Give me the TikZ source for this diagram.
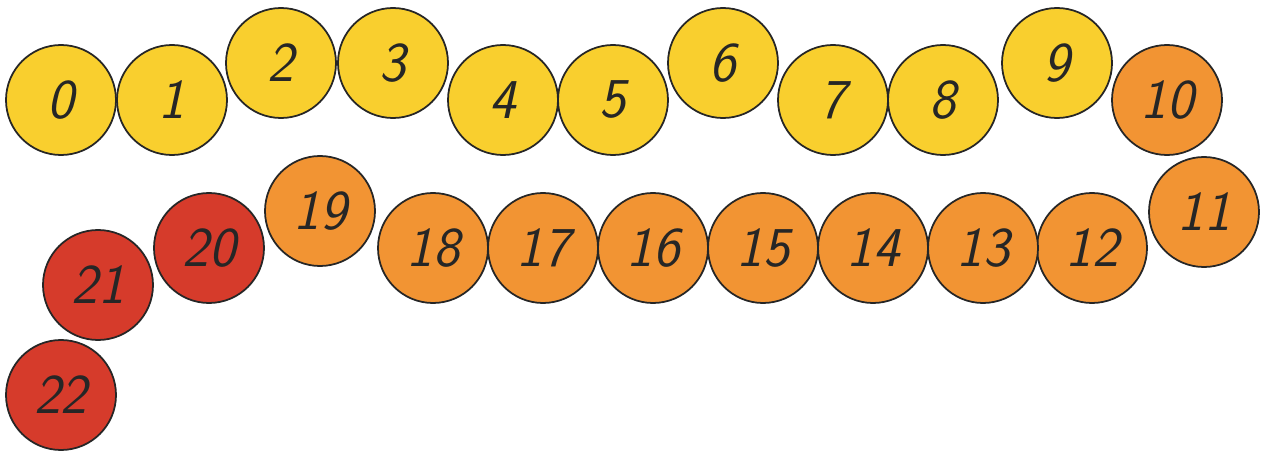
\documentclass[tikz,border=0pt]{standalone}
\usepackage{fontspec}
\definecolor{ballyellow}{HTML}{F9CF2E}
\definecolor{ballorange}{HTML}{F29433}
\definecolor{ballred}{HTML}{D63B2B}
\tikzset{
  ball/.style={circle,draw=black!85,line width=1pt,minimum size=2.2cm,inner sep=0pt,
    font=\fontsize{32}{32}\selectfont\sffamily\slshape,text=black!85},
  yball/.style={ball,fill=ballyellow},
  oball/.style={ball,fill=ballorange},
  rball/.style={ball,fill=ballred}
}
\begin{document}
\begin{tikzpicture}
	  \useasboundingbox (0,0) rectangle (25.22,-9.04);
	  % first row, yellow up to 9
	  \node[yball] (b0) at (1.22,-2.00) {0};
	  \node[yball] (b1) at (3.44,-2.00) {1};
	  \node[yball] (b2) at (5.62,-1.26) {2};
	  \node[yball] (b3) at (7.86,-1.26) {3};
	  \node[yball] (b4) at (10.06,-2.00) {4};
	  \node[yball] (b5) at (12.26,-2.00) {5};
	  \node[yball] (b6) at (14.46,-1.26) {6};
	  \node[yball] (b7) at (16.66,-2.00) {7};
	  \node[yball] (b8) at (18.86,-2.00) {8};
	  \node[yball] (b9) at (21.14,-1.26) {9};
	  \node[oball] (b10) at (23.34,-2.00) {10};
	  % second row, back to the left
	  \node[oball] (b11) at (24.08,-4.24) {11};
	  \node[oball] (b12) at (21.84,-4.96) {12};
	  \node[oball] (b13) at (19.66,-4.96) {13};
	  \node[oball] (b14) at (17.46,-4.96) {14};
	  \node[oball] (b15) at (15.26,-4.96) {15};
	  \node[oball] (b16) at (13.06,-4.96) {16};
	  \node[oball] (b17) at (10.86,-4.96) {17};
	  \node[oball] (b18) at (8.66,-4.96) {18};
	  \node[oball] (b19) at (6.40,-4.22) {19};
	  \node[rball] (b20) at (4.18,-4.96) {20};
	  \node[rball] (b21) at (1.96,-5.70) {21};
	  \node[rball] (b22) at (1.22,-7.90) {22};
	\end{tikzpicture}
\end{document}
